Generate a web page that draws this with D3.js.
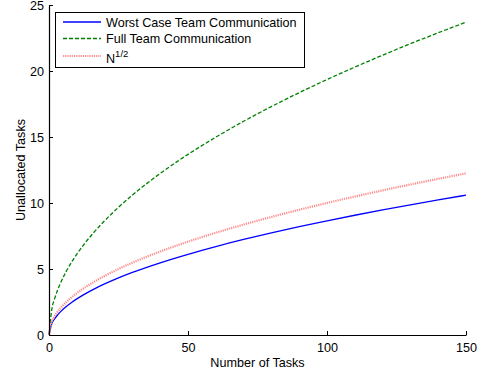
<!DOCTYPE html>
<html><head><meta charset="utf-8">
<script src="https://cdn.jsdelivr.net/npm/d3@7"></script>
<style>
html,body{margin:0;padding:0;background:#fff;}
text{font-family:"Liberation Sans",Arial,sans-serif;}
</style></head>
<body><svg id="c" width="479" height="377"></svg>
<script>
const tasks = [0,1,2,3,4,6,8,10,13,16,20,25,30,40,50,60,70,80,90,100,110,120,130,140,150];
const worstCase = [0,0.865,1.223,1.498,1.730,2.119,2.446,2.735,3.119,3.460,3.868,4.325,4.738,5.471,6.116,6.700,7.237,7.737,8.206,8.650,9.072,9.475,9.863,10.235,10.594];
const fullTeam = [0,1.935,2.736,3.351,3.870,4.739,5.472,6.119,6.977,7.740,8.653,9.675,10.598,12.239,13.682,14.988,16.190,17.307,18.357,19.350,20.294,21.196,22.063,22.895,23.698];
const sqrtN = [0,1,1.414,1.732,2,2.449,2.828,3.162,3.606,4,4.472,5,5.477,6.325,7.071,7.746,8.367,8.944,9.487,10,10.488,10.954,11.402,11.832,12.247];
const xTicks = [0,50,100,150];
const yTicks = [0,5,10,15,20,25];
const seriesNames = ["Worst Case Team Communication","Full Team Communication","N"];

const svg = d3.select("#c");
const x = d3.scaleLinear().domain([0,150]).range([49,466]);
const y = d3.scaleLinear().domain([0,25]).range([335,5]);
const fs = "12.6px";

const series = [
  {name:seriesNames[0], vals:worstCase, stroke:"#0000ff", w:1.3, dash:null},
  {name:seriesNames[1], vals:fullTeam, stroke:"#008000", w:1.3, dash:"4,2"},
  {name:seriesNames[2], vals:sqrtN, stroke:"#ff8c8c", w:2.2, dash:"1.2,1", sup:"1/2"}
];

const line = d3.line().curve(d3.curveMonotoneX);
series.forEach(s=>{
  svg.append("path")
    .attr("d", line(tasks.map((t,i)=>[x(t), y(s.vals[i])])))
    .attr("fill","none").attr("stroke",s.stroke).attr("stroke-width",s.w)
    .attr("stroke-dasharray",s.dash);
});

// axes
const xAxis = svg.append("g").attr("transform","translate(0,335)")
  .call(d3.axisBottom(x).tickValues(xTicks).tickSizeInner(-4).tickSizeOuter(0).tickPadding(8).tickFormat(d3.format("d")));
const yAxis = svg.append("g").attr("transform","translate(49,0)")
  .call(d3.axisLeft(y).tickValues(yTicks).tickSizeInner(-4).tickSizeOuter(0).tickPadding(5).tickFormat(d3.format("d")));
[xAxis,yAxis].forEach(a=>{
  a.selectAll("path.domain").attr("stroke","#000").attr("stroke-width",1.2);
  a.selectAll(".tick line").attr("stroke","#000");
  a.selectAll("text").attr("fill","#000").style("font-size",fs).style("font-family","Liberation Sans, Arial, sans-serif");
});

svg.append("text").attr("x",257.5).attr("y",367).attr("text-anchor","middle")
  .style("font-size",fs).text("Number of Tasks");
svg.append("text").attr("transform","translate(25,170) rotate(-90)").attr("text-anchor","middle")
  .style("font-size",fs).text("Unallocated Tasks");

// legend
const lg = svg.append("g");
lg.append("rect").attr("x",55.5).attr("y",12.5).attr("width",249).attr("height",55)
  .attr("fill","#fff").attr("stroke","#000").attr("stroke-width",1);
const rowY = [22, 38.5, 56];
series.forEach((s,i)=>{
  lg.append("line").attr("x1",63).attr("x2",101).attr("y1",rowY[i]).attr("y2",rowY[i])
    .attr("stroke",s.stroke).attr("stroke-width",s.w).attr("stroke-dasharray",s.dash);
  const t = lg.append("text").attr("x",106).attr("y",rowY[i]+4.5).style("font-size",fs);
  if (s.sup) {
    t.attr("y",rowY[i]+7);
    t.append("tspan").text(s.name);
    t.append("tspan").attr("dy",-6).style("font-size","9.5px").text(s.sup);
  } else t.text(s.name);
});
</script></body></html>
